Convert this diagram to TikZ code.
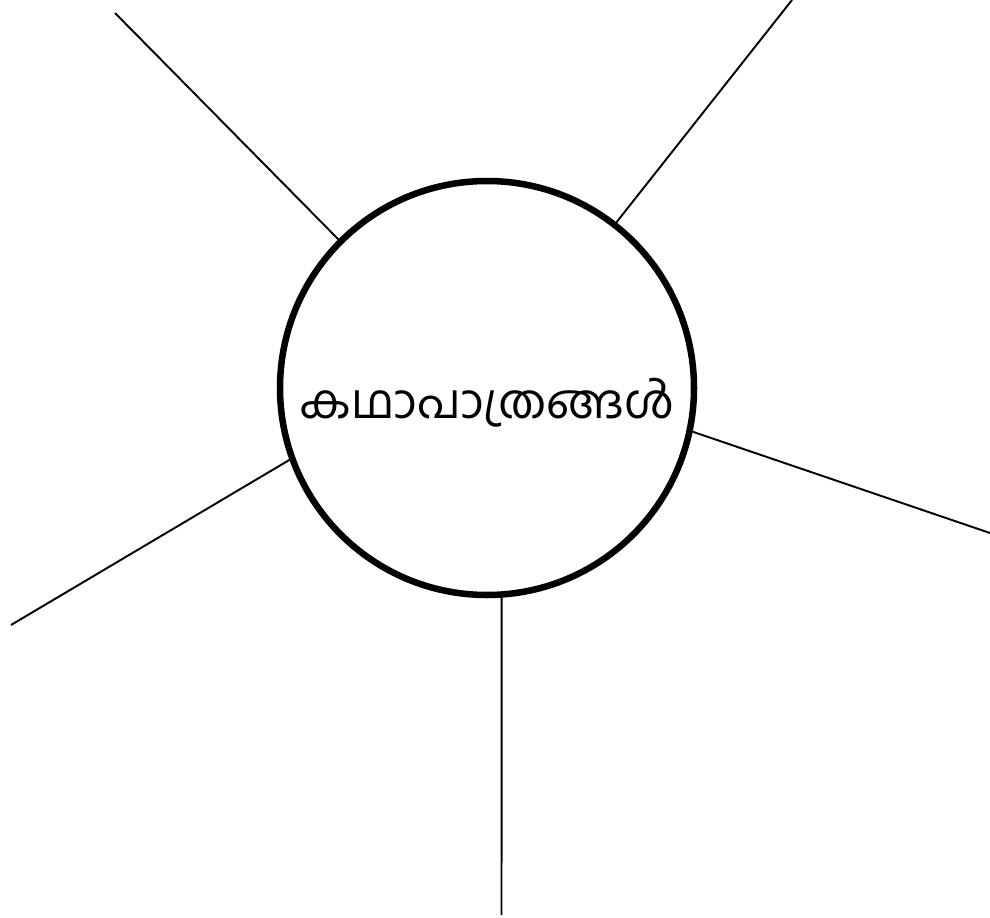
\documentclass[tikz,border=0pt]{standalone}
\usepackage{fontspec}
\newfontfamily\malfont[Script=Malayalam]{Hind Kochi}
\usetikzlibrary{positioning}

\tikzset{
  hubnode/.style={circle,draw,line width=3.7pt,minimum size=8.28cm,inner sep=0pt},
  spoke/.style={line width=1.1pt},
}

\begin{document}
\begin{tikzpicture}
\useasboundingbox (0,0) rectangle (19.8,-18.36);
\node[hubnode] (hub) at (9.74,-7.76) {};
\node (title) at ([yshift=-0.3cm]hub.center) {\malfont\fontsize{27}{30}\selectfont കഥാപാത്രങ്ങൾ};
% free ends of the spokes
\coordinate (ulend) at (2.30,-0.26);
\coordinate (urend) at (15.84,0);
\coordinate (rend) at (19.8,-10.66);
\coordinate (bend) at (10.03,-18.3);
\coordinate (lend) at (0.22,-12.5);
\draw[spoke] (hub.135) -- (ulend);
\draw[spoke] (hub.52) -- (urend);
\draw[spoke] (hub.-12) -- (rend);
\draw[spoke] (hub.-86) -- (bend);
\draw[spoke] (hub.200) -- (lend);
\end{tikzpicture}
\end{document}
